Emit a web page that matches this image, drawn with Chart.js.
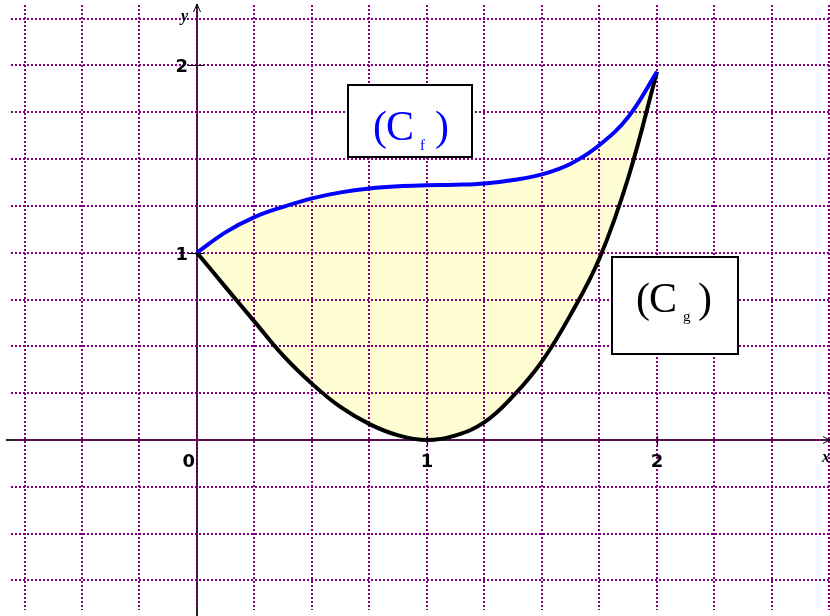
<!DOCTYPE html>
<html><head><meta charset="utf-8">
<script src="https://cdn.jsdelivr.net/npm/chart.js@4/dist/chart.umd.min.js"></script>
<style>html,body{margin:0;padding:0;background:#fff}#wrap{width:830px;height:616px;position:relative}</style>
</head><body><div id="wrap"><canvas id="c"></canvas></div>
<script>
// ---- data ----
const xValues = [0, 0.125, 0.25, 0.375, 0.5, 0.625, 0.75, 0.875, 1, 1.125, 1.25, 1.375, 1.5, 1.625, 1.75, 1.875, 2];
const fValues = [1.00, 1.11, 1.19, 1.245, 1.29, 1.322, 1.343, 1.355, 1.36, 1.363, 1.37, 1.388, 1.418, 1.475, 1.575, 1.725, 1.966];
const gValues = [1.00, 0.815, 0.632, 0.45, 0.30, 0.175, 0.085, 0.025, 0.00, 0.025, 0.095, 0.235, 0.42, 0.67, 0.97, 1.40, 1.966];
const xTickValues = [0, 1, 2];
const xTickLabels = ['0', '1', '2'];
const yTickValues = [1, 2];
const yTickLabels = ['1', '2'];
const curveNames = ['C', 'C'];
const curveSubs = ['f', 'g'];

// ---- view ----
const X_MIN = -0.8087, X_MAX = 2.7522, Y_MIN = -0.9076, Y_MAX = 2.3225, STEP = 0.25;

function gridTicks(scale) {
  const t = [];
  for (let v = Math.ceil(scale.min / STEP) * STEP; v <= scale.max + 1e-9; v += STEP) t.push({ value: +v.toFixed(4) });
  scale.ticks = t;
}

const decor = {
  id: 'decor',
  beforeDraw(chart) {
    const { ctx, scales: { x, y } } = chart;
    const x0 = x.getPixelForValue(0), y0 = y.getPixelForValue(0);
    ctx.save();
    ctx.strokeStyle = '#222';
    ctx.lineWidth = 2;
    ctx.beginPath();
    ctx.moveTo(6, Math.round(y0)); ctx.lineTo(830, Math.round(y0));
    ctx.moveTo(Math.round(x0), 4); ctx.lineTo(Math.round(x0), 616);
    ctx.stroke();
    ctx.restore();
  },
  afterDraw(chart) {
    const { ctx, scales: { x, y } } = chart;
    const x0 = Math.round(x.getPixelForValue(0)), y0 = Math.round(y.getPixelForValue(0));
    ctx.save();
    // arrows
    ctx.strokeStyle = '#000'; ctx.lineWidth = 1;
    ctx.beginPath();
    ctx.moveTo(x0 - 3.5, 12); ctx.lineTo(x0, 4); ctx.lineTo(x0 + 3.5, 12);
    ctx.moveTo(823, y0 - 3.5); ctx.lineTo(830, y0); ctx.lineTo(823, y0 + 3.5);
    ctx.stroke();
    // tick marks
    ctx.lineWidth = 1.2;
    ctx.beginPath();
    xTickValues.forEach(v => { if (v !== 0) { const p = Math.round(x.getPixelForValue(v)) + 0.5; ctx.moveTo(p, y0 - 4); ctx.lineTo(p, y0 + 5); } });
    yTickValues.forEach(v => { const p = Math.round(y.getPixelForValue(v)) + 0.5; ctx.moveTo(x0 - 8, p); ctx.lineTo(x0 + 6, p); });
    ctx.stroke();
    // tick labels
    ctx.fillStyle = '#000';
    ctx.font = "bold 18px 'DejaVu Sans'";
    ctx.textBaseline = 'alphabetic';
    xTickValues.forEach((v, i) => {
      const p = x.getPixelForValue(v);
      if (v === 0) { ctx.textAlign = 'right'; ctx.fillText(xTickLabels[i], p - 2, y0 + 27); }
      else { ctx.textAlign = 'center'; ctx.fillText(xTickLabels[i], p, y0 + 27); }
    });
    ctx.textAlign = 'right';
    yTickValues.forEach((v, i) => {
      const p = y.getPixelForValue(v);
      ctx.fillText(yTickLabels[i], x0 - 9, p + 7);
    });
    // axis names
    ctx.font = "italic bold 16px 'Liberation Serif'";
    ctx.textAlign = 'left';
    ctx.fillText('y', x0 - 16, 21);
    ctx.fillText('x', 822, y0 + 22);
    // label boxes
    const boxes = [
      { x0: 0.657, x1: 1.196, y0: 1.895, y1: 1.508, color: '#0000ff', px: [373, 386, 420, 435], base: 140, subBase: 150, name: curveNames[0], sub: curveSubs[0] },
      { x0: 1.806, x1: 2.352, y0: 0.976, y1: 0.459, color: '#000000', px: [636, 649, 683, 698], base: 312, subBase: 321, name: curveNames[1], sub: curveSubs[1] }
    ];
    boxes.forEach(b => {
      const l = x.getPixelForValue(b.x0), r = x.getPixelForValue(b.x1);
      const t = y.getPixelForValue(b.y0), bt = y.getPixelForValue(b.y1);
      ctx.fillStyle = '#fff';
      ctx.fillRect(l, t, r - l, bt - t);
      ctx.strokeStyle = '#000'; ctx.lineWidth = 2;
      ctx.strokeRect(Math.round(l), Math.round(t), Math.round(r - l), Math.round(bt - t));
      ctx.fillStyle = b.color;
      ctx.textAlign = 'left';
      ctx.font = "42px 'Liberation Serif'";
      ctx.fillText('(', b.px[0], b.base);
      ctx.fillText(b.name, b.px[1], b.base);
      ctx.fillText(')', b.px[3], b.base);
      ctx.font = "15px 'Liberation Serif'";
      ctx.fillText(b.sub, b.px[2], b.subBase);
    });
    ctx.restore();
  }
};

const toPts = vals => xValues.map((v, i) => ({ x: v, y: vals[i] }));

new Chart(document.getElementById('c'), {
  type: 'line',
  data: {
    datasets: [
      { label: 'Cf', data: toPts(fValues), borderColor: '#0000ff', borderWidth: 4, pointRadius: 0,
        tension: 0.4, fill: '+1', backgroundColor: 'rgba(255,250,160,0.45)' },
      { label: 'Cg', data: toPts(gValues), borderColor: '#000000', borderWidth: 4, pointRadius: 0,
        tension: 0.4, fill: false }
    ]
  },
  options: {
    responsive: true, maintainAspectRatio: false, animation: false,
    layout: { padding: { left: 11, top: 5, right: 0, bottom: 6 } },
    plugins: { legend: { display: false }, tooltip: { enabled: false }, filler: { drawTime: 'beforeDraw' } },
    scales: {
      x: { type: 'linear', min: X_MIN, max: X_MAX, afterBuildTicks: gridTicks,
           ticks: { display: false }, border: { display: false, dash: [2, 2] },
           grid: { color: '#800080', lineWidth: 2, drawTicks: false } },
      y: { type: 'linear', min: Y_MIN, max: Y_MAX, afterBuildTicks: gridTicks,
           ticks: { display: false }, border: { display: false, dash: [2, 2] },
           grid: { color: '#800080', lineWidth: 2, drawTicks: false } }
    }
  },
  plugins: [decor]
});
</script></body></html>
